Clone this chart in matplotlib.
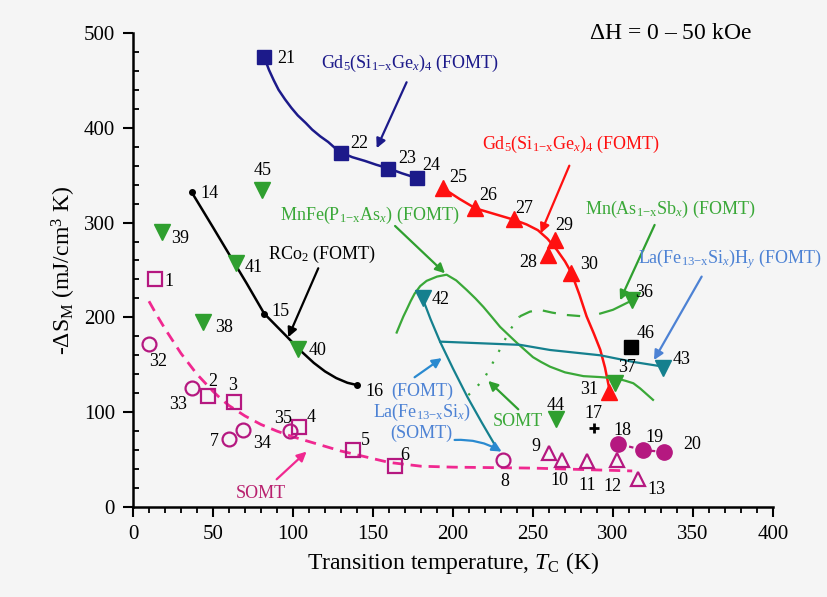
import matplotlib
matplotlib.use("Agg")
import matplotlib.pyplot as plt
from matplotlib.ticker import MultipleLocator

plt.rcParams["font.family"] = ["Liberation Serif", "DejaVu Serif"]
plt.rcParams["mathtext.fontset"] = "custom"
plt.rcParams["mathtext.rm"] = "Liberation Serif"
plt.rcParams["mathtext.it"] = "Liberation Serif:italic"

# ---- point data: id, Tc (K), -dS_M (mJ/cm3 K) ----
sq_open_id = [1, 2, 3, 4, 5, 6]
sq_open_t = [13.8, 47, 63, 103.8, 137.3, 164]
sq_open_s = [240.5, 117, 111, 84, 60, 43]

circ_open_id = [7, 8, 32, 33, 34, 35]
circ_open_t = [60.2, 231.5, 10.2, 36.7, 69, 98]
circ_open_s = [71.4, 49.6, 172, 126, 81, 80]

tri_open_id = [9, 10, 11, 12, 13]
tri_open_t = [260, 268, 283.5, 302.3, 315.8]
tri_open_s = [57.3, 50, 48.5, 49.6, 29]

circ_fill_id = [18, 19, 20]
circ_fill_t = [303.3, 319, 332]
circ_fill_s = [66.5, 60, 58]

rco2_id = [14, 15, 16]
rco2_t = [36.7, 82, 139.8]
rco2_s = [332, 204, 128.7]

cross_id = [17]
cross_t = [288.3]
cross_s = [83.7]

gd_navy_id = [21, 22, 23, 24]
gd_navy_t = [82, 130, 159.6, 177.3]
gd_navy_s = [475, 373.7, 357, 347]

gd_red_id = [25, 26, 27, 28, 29, 30, 31]
gd_red_t = [194, 213.8, 238, 259.6, 263.8, 274, 297.7]
gd_red_s = [336, 315, 303.5, 265.8, 281.6, 247, 121.6]

green_id = [36, 37, 38, 39, 40, 41, 44, 45]
green_t = [312, 301, 43.5, 18.3, 103, 64.4, 264.4, 80.8]
green_s = [218, 131, 195.5, 290, 167, 257, 92.5, 334]

teal_id = [42, 43]
teal_t = [181, 331.5]
teal_s = [220, 147]

black_sq_id = [46]
black_sq_t = [311]
black_sq_s = [168.5]

# ---- curves ----
navy_curve_t = [83, 85, 88, 91, 95, 99, 103, 108, 112, 117, 122, 126, 130,
                137, 145, 152, 160, 168, 177.3]
navy_curve_s = [470, 461, 450, 440, 430, 421, 413, 405, 398, 391, 385, 379, 374,
                369, 365, 361, 357, 352, 347]

red_curve_t = [194, 204, 214, 226, 238, 246, 253, 259, 265, 270, 274, 279,
               283.5, 288, 292, 295, 298]
red_curve_s = [336, 325, 315, 309, 303, 298, 292, 283, 271, 259, 247, 224,
               201, 183, 166, 147, 122]

rco2_curve_t = [36.7, 50, 61, 71, 82, 89, 96, 104, 113, 120, 127, 134, 139.8]
rco2_curve_s = [332, 295, 264, 236, 204, 192, 180, 166, 152, 143, 136, 131, 128.7]

somt_curve_t = [10, 15, 20, 25, 30, 35, 40, 45, 50, 55, 60, 70, 80, 90, 100,
                110, 120, 130, 140, 150, 160, 170, 180, 200, 250, 312]
somt_curve_s = [217, 202, 188, 175, 162, 151, 140, 131, 122, 114, 107, 96, 87,
                80, 74, 69, 64, 59, 55, 51, 47, 45, 43, 42, 41, 38]

mnfe_curve_t = [164.8, 167, 169, 171, 173.5, 176, 179.5, 183.5, 190, 196, 202,
                208.5, 214, 219, 224, 229.4, 235, 240, 250, 255, 260.6, 270,
                281.5, 292, 302, 308, 312.7, 317, 321, 325]
mnfe_curve_s = [184, 193, 201, 208, 217, 225, 233, 238.5, 243, 245, 239,
                229, 220, 211, 201, 190, 181, 173, 158, 153, 148, 142,
                138, 137, 135.7, 133, 130.5, 125, 119, 113]

mnas_dot_t = [209.6, 219, 227, 235.6, 241.7]
mnas_dot_s = [118, 134, 158.6, 186.7, 201]
mnas_dash_t = [241.7, 248, 254, 262, 271, 283.5]
mnas_dash_s = [201, 206, 208, 205, 202.5, 200.8]
mnas_solid_t = [292, 300, 306, 312]
mnas_solid_s = [204, 208, 213, 218]

la_a_t = [181, 186, 192, 200, 209, 218, 227]
la_a_s = [220, 198, 174, 146, 116, 89, 63]
la_b_t = [192, 242, 260.6, 292, 312.7, 331.5]
la_b_s = [174.4, 171, 165.6, 160, 153, 148]

# label offsets (pixels, x right / y up)
label_off = {
    1: (14, -3), 2: (5, 15), 3: (-1, 16), 4: (12, 10), 5: (13, 10), 6: (9, 11),
    7: (-15, -2), 8: (1, -22), 9: (-13, 6), 10: (-2, -21), 11: (1, -25),
    12: (-4, -27), 13: (18, -10), 14: (18, -1), 15: (16, 2), 16: (18, -7),
    17: (-1, 14), 18: (4, 13), 19: (11, 13), 20: (28, 7), 21: (22, -2),
    22: (18, 9), 23: (19, 10), 24: (15, 13), 25: (15, 11), 26: (13, 13),
    27: (10, 11), 28: (-20, -8), 29: (9, 15), 30: (18, 8), 31: (-20, 2),
    32: (9, -18), 33: (-14, -17), 34: (19, -13), 35: (-7, 13), 36: (12, 8),
    37: (12, 15), 38: (21, -6), 39: (18, -6), 40: (20, -2), 41: (18, -4),
    42: (18, -1), 43: (18, 8), 44: (0, 14), 45: (0, 20), 46: (15, 14),
}

NAVY = "#1c1a8a"
RED = "#ff1010"
GREEN = "#2f9f2f"
LGREEN = "#3aa838"
TEAL = "#15808e"
MAG = "#b51880"
PINK = "#f02890"
BLUE = "#4d82d4"
BG = "#f5f5f5"

fig = plt.figure(figsize=(8.28, 5.97), dpi=100, facecolor=BG)
ax = fig.add_axes([0.1606, 0.1508, 0.773, 0.794], facecolor=BG)

# curves
ax.plot(somt_curve_t, somt_curve_s, color=PINK, lw=2, ls=(0, (4, 2.5)))
ax.plot(navy_curve_t, navy_curve_s, color=NAVY, lw=1.8)
ax.plot(red_curve_t, red_curve_s, color=RED, lw=1.8)
ax.plot(rco2_curve_t, rco2_curve_s, color="black", lw=1.8)
ax.plot(mnfe_curve_t, mnfe_curve_s, color=LGREEN, lw=1.6)
ax.plot(mnas_dot_t, mnas_dot_s, color=LGREEN, lw=1.6, ls=(0, (1, 5)))
ax.plot(mnas_dash_t, mnas_dash_s, color=LGREEN, lw=1.6, ls=(0, (6, 5)))
ax.plot(mnas_solid_t, mnas_solid_s, color=LGREEN, lw=1.6)
ax.plot(la_a_t, la_a_s, color=TEAL, lw=1.6)
ax.plot(la_b_t, la_b_s, color=TEAL, lw=1.6)
ax.plot(circ_fill_t, circ_fill_s, color=MAG, lw=1.6, ls=(0, (2, 3)))

# markers
ax.plot(sq_open_t, sq_open_s, "s", ms=9.5, mfc="none", mec=MAG, mew=1.6)
ax.plot(circ_open_t, circ_open_s, "o", ms=10, mfc="none", mec=MAG, mew=1.6)
ax.plot(tri_open_t, tri_open_s, "^", ms=10, mfc="none", mec=MAG, mew=1.6)
ax.plot(circ_fill_t, circ_fill_s, "o", ms=11, color=MAG)
ax.plot(rco2_t, rco2_s, "o", ms=4, color="black")
ax.plot(cross_t, cross_s, "+", ms=7, mew=2, color="black")
ax.plot(gd_navy_t, gd_navy_s, "s", ms=10, color=NAVY)
ax.plot(gd_red_t, gd_red_s, "^", ms=11, color=RED)
ax.plot(green_t, green_s, "v", ms=11, color=GREEN)
ax.plot(teal_t, teal_s, "v", ms=11, color=TEAL)
ax.plot(black_sq_t, black_sq_s, "s", ms=10, color="black")

# point numbers
groups = [
    (sq_open_id, sq_open_t, sq_open_s), (circ_open_id, circ_open_t, circ_open_s),
    (tri_open_id, tri_open_t, tri_open_s), (circ_fill_id, circ_fill_t, circ_fill_s),
    (rco2_id, rco2_t, rco2_s), (cross_id, cross_t, cross_s),
    (gd_navy_id, gd_navy_t, gd_navy_s), (gd_red_id, gd_red_t, gd_red_s),
    (green_id, green_t, green_s), (teal_id, teal_t, teal_s),
    (black_sq_id, black_sq_t, black_sq_s),
]
for ids, ts, ss in groups:
    for i, t, s in zip(ids, ts, ss):
        dx, dy = label_off[i]
        ax.annotate(str(i), (t, s), xytext=(dx * 0.72, dy * 0.72),
                    textcoords="offset points", ha="center", va="center",
                    fontsize=13)


def arrow(tail, head, color, rad=0.0):
    ax.annotate("", xy=head, xytext=tail,
                arrowprops=dict(arrowstyle="-|>", color=color, lw=1.6,
                                mutation_scale=14, shrinkA=0, shrinkB=0,
                                connectionstyle="arc3,rad=%s" % rad))


fs = 13
sub1x = r"$_{\mathrm{1{-}x}}$"
sub13x = r"$_{\mathrm{13{-}x}}$"
ax.text(173, 468, "Gd$_5$(Si" + sub1x + "Ge$_x$)$_4$ (FOMT)", color=NAVY,
        fontsize=fs, ha="center", va="center")
arrow((171, 448), (152.3, 378.4), NAVY)

ax.text(274, 382, "Gd$_5$(Si" + sub1x + "Ge$_x$)$_4$ (FOMT)", color=RED,
        fontsize=fs, ha="center", va="center")
arrow((272.7, 360), (254.8, 288.7), RED)

ax.text(148, 308, "MnFe(P" + sub1x + "As$_x$) (FOMT)", color=LGREEN,
        fontsize=fs, ha="center", va="center")
arrow((163.8, 296.4), (195, 246.5), GREEN)

ax.text(335.6, 314, "Mn(As" + sub1x + "Sb$_x$) (FOMT)", color=LGREEN,
        fontsize=fs, ha="center", va="center")
arrow((326, 297.5), (304.4, 218), GREEN)

ax.text(315.5, 262, "La(Fe" + sub13x + "Si$_x$)H$_y$ (FOMT)", color=BLUE,
        fontsize=fs, ha="left", va="center", clip_on=False)
arrow((355.4, 243), (325.6, 155), BLUE)

ax.text(118, 266, r"RCo$_2$ (FOMT)", color="black", fontsize=fs,
        ha="center", va="center")
arrow((115.8, 251.8), (97, 179), "black")

ax.text(80, 14.4, "SOMT", color="#b8206e", fontsize=fs, ha="center", va="center")
arrow((89.8, 29.2), (108.5, 58.4), PINK)

ax.text(240.6, 90, "SOMT", color=LGREEN, fontsize=fs, ha="center", va="center")
arrow((240.8, 103), (222, 133), GREEN)

ax.text(181, 121.6, "(FOMT)", color=BLUE, fontsize=fs, ha="center", va="center")
ax.text(180.4, 99.5, "La(Fe" + sub13x + "Si$_x$)", color=BLUE, fontsize=fs,
        ha="center", va="center")
ax.text(180, 77.7, "(SOMT)", color=BLUE, fontsize=fs, ha="center", va="center")
arrow((176, 136.8), (193, 157), "#2a8ad0")
arrow((201, 70.7), (230.4, 58.4), "#2a8ad0", rad=-0.15)

ax.text(336, 499, r"$\Delta$H = 0 – 50 kOe", fontsize=17, ha="center", va="center")

ax.set_xlim(0, 400)
ax.set_ylim(0, 500)
ax.xaxis.set_major_locator(MultipleLocator(50))
ax.xaxis.set_minor_locator(MultipleLocator(10))
ax.yaxis.set_major_locator(MultipleLocator(100))
ax.yaxis.set_minor_locator(MultipleLocator(20))
ax.tick_params(axis="x", which="major", direction="out", length=7, width=1.5,
               labelsize=15, pad=6)
ax.tick_params(axis="x", which="minor", direction="out", length=4, width=1.3)
ax.tick_params(axis="y", which="major", direction="out", length=7, width=1.5,
               labelsize=15, pad=6)
ax.tick_params(axis="y", which="minor", direction="in", length=4, width=1.3)
for sp in ("top", "right"):
    ax.spines[sp].set_visible(False)
for sp in ("left", "bottom"):
    ax.spines[sp].set_linewidth(1.8)

ax.set_xlabel(r"Transition temperature, $T_{\mathrm{C}}$ (K)", fontsize=17)
ax.set_ylabel(r"-$\Delta$S$_{\mathrm{M}}$ (mJ/cm$^3$ K)", fontsize=17)

fig.savefig("out.png", dpi=100, facecolor=BG)
